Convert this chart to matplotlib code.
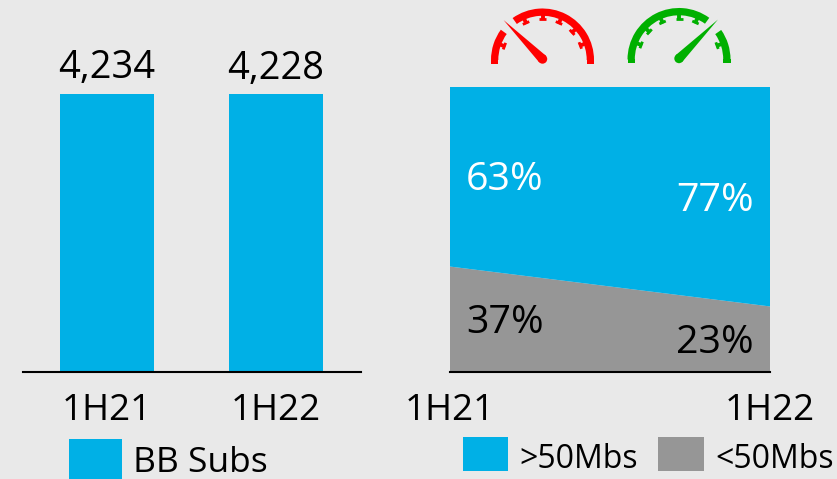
import numpy as np
import matplotlib
matplotlib.use('Agg')
import matplotlib.pyplot as plt
from matplotlib.patches import Wedge, Polygon, Circle, Rectangle

plt.rcParams['font.family'] = ['Open Sans', 'DejaVu Sans']

W, H = 837, 479
BLUE = '#00b0e6'
GREY = '#969696'
BG = '#e9e9e9'

# left chart
bar_periods = ['1H21', '1H22']
bb_subs = [4234, 4228]
# right chart
share_periods = ['1H21', '1H22']
over_50 = [63, 77]
under_50 = [37, 23]


def place(fig, x0, y0, x1, y1):
    # pixel box, y from the top
    return fig.add_axes([x0 / W, 1 - y1 / H, (x1 - x0) / W, (y1 - y0) / H])


def gauge(ax, cx, cy, color, gap, ticks, needle):
    r = 51.5
    ax.add_patch(Wedge((cx, cy), r, 0, gap[0], width=7.3, color=color, lw=0))
    ax.add_patch(Wedge((cx, cy), r, gap[1], 180, width=7.3, color=color, lw=0))
    # short stubs down from the arc ends
    ax.add_patch(Rectangle((cx - r, cy - 4), 7.3, 4, color=color, lw=0))
    ax.add_patch(Rectangle((cx + r - 7.3, cy - 4), 7.3, 4, color=color, lw=0))
    for a in ticks:
        t = np.radians(a)
        u = np.array([np.cos(t), np.sin(t)])
        v = np.array([-u[1], u[0]])
        c = np.array([cx, cy])
        ax.plot(*zip(c + u * (r - 6), c + u * (r - 12)), color=color, lw=2.8, solid_capstyle='butt')
        ax.plot(*zip(c + u * (r - 11) - v * 3.5, c + u * (r - 11) + v * 3.5), color=color, lw=2, solid_capstyle='butt')
    t = np.radians(needle)
    n = np.array([np.cos(t), np.sin(t)])
    p = np.array([-n[1], n[0]])
    c = np.array([cx, cy + 1])
    ax.add_patch(Polygon([c + p * 4.7, c + n * 55, c - p * 4.7], color=color, lw=0))
    ax.add_patch(Circle(c, 4.7, color=color, lw=0))


fig = plt.figure(figsize=(W / 100 + 1e-4, H / 100 + 1e-4), dpi=100, facecolor=BG)

# bars
ax = place(fig, 23, 0, 361, 372)
ax.set_facecolor('none')
xpos = np.arange(len(bb_subs))
ax.bar(xpos, bb_subs, width=0.556, color=BLUE)
ax.set_xlim(-0.497, 1.503)
ax.set_ylim(0, 5666)
for x, v in zip(xpos, bb_subs):
    ax.text(x, v + 100, f'{v:,}', ha='center', va='bottom', fontsize=27.4, color='black')
ax.set_xticks(xpos, bar_periods, fontsize=26.5)
ax.tick_params(axis='x', length=0, pad=15)
ax.set_yticks([])
for s in ['top', 'left', 'right']:
    ax.spines[s].set_visible(False)
ax.spines['bottom'].set_linewidth(1.5)

# stacked area
ax2 = place(fig, 450, 87, 770, 372)
ax2.set_facecolor('none')
xs = np.arange(len(over_50))
ax2.stackplot(xs, under_50, over_50, colors=[GREY, BLUE], lw=0)
ax2.set_xlim(0, 1)
ax2.set_ylim(0, 100)
ax2.set_yticks([])
ax2.set_xticks(xs, share_periods, fontsize=26.5)
ax2.tick_params(axis='x', length=0, pad=15)
for s in ['top', 'left', 'right']:
    ax2.spines[s].set_visible(False)
ax2.spines['bottom'].set_linewidth(1.5)
ax2.text(0.05, 67.2, f'{over_50[0]}%', fontsize=28.4, color='white', ha='left', va='center')
ax2.text(0.95, 60, f'{over_50[1]}%', fontsize=28.4, color='white', ha='right', va='center')
ax2.text(0.05, 17.2, f'{under_50[0]}%', fontsize=28.4, color='black', ha='left', va='center')
ax2.text(0.95, 10.2, f'{under_50[1]}%', fontsize=28.4, color='black', ha='right', va='center')

# overlay in pixels: gauges and legends
ov = fig.add_axes([0, 0, 1, 1])
ov.set_xlim(0, W)
ov.set_ylim(0, H)
ov.axis('off')
gauge(ov, 542.5, H - 60, '#ff0000', (125.5, 144), [21, 43, 66, 90, 114, 160], 135)
gauge(ov, 679, H - 59.5, '#00b000', (35, 54), [20, 66, 90, 114, 137, 159], 45)

ov.add_patch(Rectangle((69, 0), 53, H - 439, color=BLUE, lw=0))
ov.text(133, H - 463, 'BB Subs', fontsize=25.5, va='center', ha='left')
ov.add_patch(Rectangle((463, H - 471), 45, 34, color=BLUE, lw=0))
ov.text(519, H - 459, '>50Mbs', fontsize=23, va='center', ha='left')
ov.add_patch(Rectangle((658, H - 471), 46, 34, color=GREY, lw=0))
ov.text(715, H - 459, '<50Mbs', fontsize=23, va='center', ha='left')

fig.savefig('out.png', dpi=100, facecolor=BG)
